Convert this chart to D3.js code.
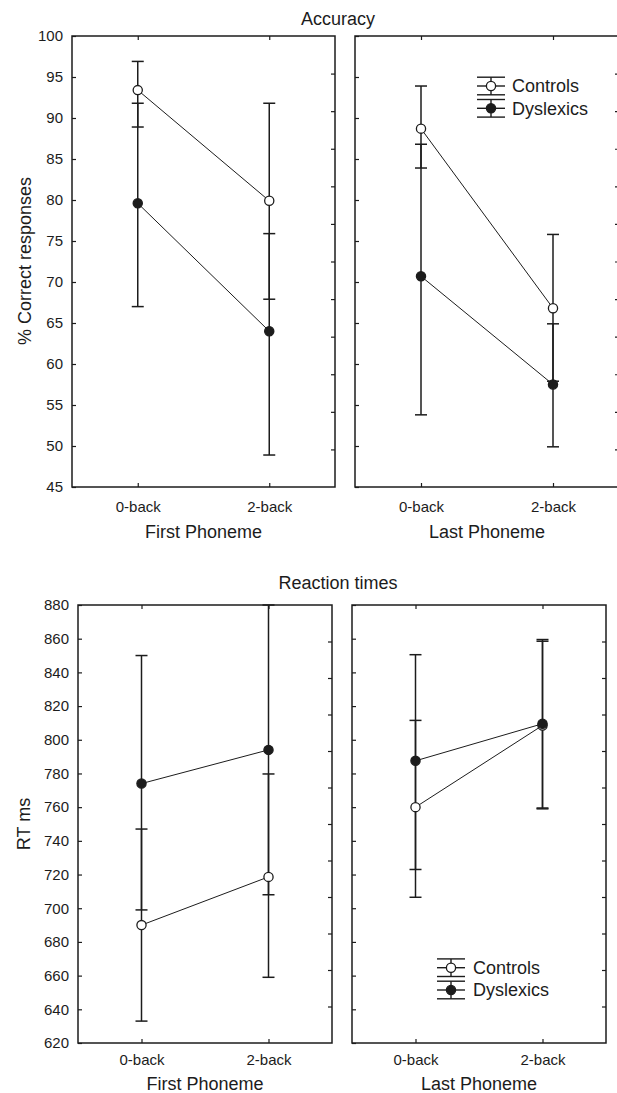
<!DOCTYPE html>
<html>
<head>
<meta charset="utf-8">
<script src="https://cdn.jsdelivr.net/npm/d3@7"></script>
<style>
  body { margin: 0; background: #fff; }
  svg { display: block; font-family: "Liberation Sans", Arial, sans-serif; }
</style>
</head>
<body>
<svg id="chart" width="617" height="1093"></svg>
<script>
const conditions = ["0-back", "2-back"];
const groups = ["Controls", "Dyslexics"];

// each entry: [mean, lower bar end, upper bar end] for 0-back, 2-back
const accFirstControls = [[93.4, 88.9, 96.9], [79.9, 67.9, 91.8]];
const accFirstDyslexics = [[79.6, 67.0, 91.8], [64.0, 48.9, 75.9]];
const accLastControls = [[88.7, 83.9, 93.9], [66.8, 57.9, 75.8]];
const accLastDyslexics = [[70.7, 53.8, 86.8], [57.5, 49.9, 64.9]];

const rtFirstControls = [[690, 633, 747], [718.6, 659, 779.7]];
const rtFirstDyslexics = [[774, 699, 850], [794, 708, 880]];
const rtLastControls = [[760, 706.5, 811.5], [808.5, 759, 858.5]];
const rtLastDyslexics = [[787.5, 723, 850.5], [809.5, 759.5, 859.5]];

const accTicks = [45, 50, 55, 60, 65, 70, 75, 80, 85, 90, 95, 100];
const rtTicks = [620, 640, 660, 680, 700, 720, 740, 760, 780, 800, 820, 840, 860, 880];

const ink = "#1c1c1c";
const svg = d3.select("#chart");

function drawPanel(p) {
  const x = d3.scalePoint().domain(conditions).range([p.x0, p.x1]).padding(0.5);
  const y = d3.scaleLinear().domain(p.domain).range([p.y1, p.y0]);
  const r12 = d3.scaleLinear().domain([0, 12]).range([p.y1, p.y0]); //right border ticks use 12 steps
  const g = svg.append("g");

  let left = d3.axisLeft(y).tickValues(p.ticks).tickSize(-4).tickPadding(9);
  if (!p.labels) left.tickFormat("");
  g.append("g").attr("class", "ax").attr("transform", `translate(${p.x0},0)`).call(left);
  g.append("g").attr("class", "ax").attr("transform", `translate(${p.x1},0)`)
    .call(d3.axisRight(r12).tickValues(d3.range(1, 12)).tickSize(-4).tickFormat(""));
  g.append("g").attr("class", "ax").attr("transform", `translate(0,${p.y0})`)
    .call(d3.axisTop(x).tickSize(-4).tickFormat(""));
  g.append("g").attr("class", "ax").attr("transform", `translate(0,${p.y1})`)
    .call(d3.axisBottom(x).tickSize(-4).tickPadding(p.xPad));

  g.selectAll(".ax").attr("font-family", null).attr("font-size", 15);
  g.selectAll(".domain").remove();
  g.selectAll(".tick line").attr("stroke", ink).attr("stroke-width", 1.2);
  g.selectAll(".tick text").attr("fill", ink);

  g.append("rect")
    .attr("x", p.x0).attr("y", p.y0)
    .attr("width", p.x1 - p.x0).attr("height", p.y1 - p.y0)
    .attr("fill", "none").attr("stroke", ink).attr("stroke-width", 1.5);

  const series = [
    { data: p.controls, fill: "#fff" },
    { data: p.dyslexics, fill: ink }
  ];

  // error bars first
  series.forEach(s => {
    const eb = g.append("g").attr("stroke", ink).attr("stroke-width", 1.5);
    eb.selectAll(".v").data(s.data).join("line")
      .attr("x1", (d, i) => x(conditions[i])).attr("x2", (d, i) => x(conditions[i]))
      .attr("y1", d => y(d[1])).attr("y2", d => y(d[2]));
    eb.selectAll(".lo").data(s.data).join("line")
      .attr("x1", (d, i) => x(conditions[i]) - 6).attr("x2", (d, i) => x(conditions[i]) + 6)
      .attr("y1", d => y(d[1])).attr("y2", d => y(d[1]));
    eb.selectAll(".hi").data(s.data).join("line")
      .attr("x1", (d, i) => x(conditions[i]) - 6).attr("x2", (d, i) => x(conditions[i]) + 6)
      .attr("y1", d => y(d[2])).attr("y2", d => y(d[2]));
  });

  const line = d3.line().x((d, i) => x(conditions[i])).y(d => y(d[0]));
  series.forEach(s => {
    g.append("path").datum(s.data)
      .attr("d", line).attr("fill", "none").attr("stroke", ink).attr("stroke-width", 1);
  });
  series.forEach(s => {
    g.selectAll(null).data(s.data).join("circle")
      .attr("cx", (d, i) => x(conditions[i])).attr("cy", d => y(d[0]))
      .attr("r", 4.6).attr("fill", s.fill).attr("stroke", ink).attr("stroke-width", 1.3);
  });
}

function drawLegend(cx, cy, gap, tx) {
  const g = svg.append("g");
  groups.forEach((name, i) => {
    const yy = cy + i * gap;
    const row = g.append("g").attr("stroke", ink).attr("stroke-width", 1.4);
    [-8.8, 0, 8.8].forEach(dy => {
      row.append("line").attr("x1", cx - 14).attr("x2", cx + 14).attr("y1", yy + dy).attr("y2", yy + dy);
    });
    row.append("line").attr("x1", cx).attr("x2", cx).attr("y1", yy - 8.8).attr("y2", yy + 8.8);
    row.append("circle").attr("cx", cx).attr("cy", yy).attr("r", 4.6)
      .attr("fill", i === 0 ? "#fff" : ink).attr("stroke-width", 1.3);
    g.append("text").attr("x", tx).attr("y", yy).attr("dy", "0.36em")
      .attr("font-size", 18).attr("fill", ink).text(name);
  });
}

function text(x, y, str, size, rotate) {
  const t = svg.append("text").attr("text-anchor", "middle").attr("font-size", size).attr("fill", ink).text(str);
  if (rotate) t.attr("transform", `translate(${x},${y}) rotate(-90)`);
  else t.attr("x", x).attr("y", y);
}

// Accuracy
drawPanel({ x0: 72, x1: 335, y0: 36, y1: 487, domain: [45, 100], ticks: accTicks, labels: true, xPad: 14,
  controls: accFirstControls, dyslexics: accFirstDyslexics });
drawPanel({ x0: 355, x1: 619, y0: 36, y1: 487, domain: [45, 100], ticks: accTicks, labels: false, xPad: 14,
  controls: accLastControls, dyslexics: accLastDyslexics });
drawLegend(491, 86, 22.3, 512);

text(338, 25, "Accuracy", 18);
text(203.5, 538, "First Phoneme", 18);
text(487, 538, "Last Phoneme", 18);
text(31, 261, "% Correct responses", 18, true);

// Reaction times
drawPanel({ x0: 78, x1: 332, y0: 605, y1: 1043, domain: [620, 880], ticks: rtTicks, labels: true, xPad: 11,
  controls: rtFirstControls, dyslexics: rtFirstDyslexics });
drawPanel({ x0: 352, x1: 606, y0: 605, y1: 1043, domain: [620, 880], ticks: rtTicks, labels: false, xPad: 11,
  controls: rtLastControls, dyslexics: rtLastDyslexics });
drawLegend(451, 967.7, 22.3, 473);

text(338, 589, "Reaction times", 18);
text(205, 1090, "First Phoneme", 18);
text(479, 1090, "Last Phoneme", 18);
text(30, 824, "RT ms", 18, true);
</script>
</body>
</html>
